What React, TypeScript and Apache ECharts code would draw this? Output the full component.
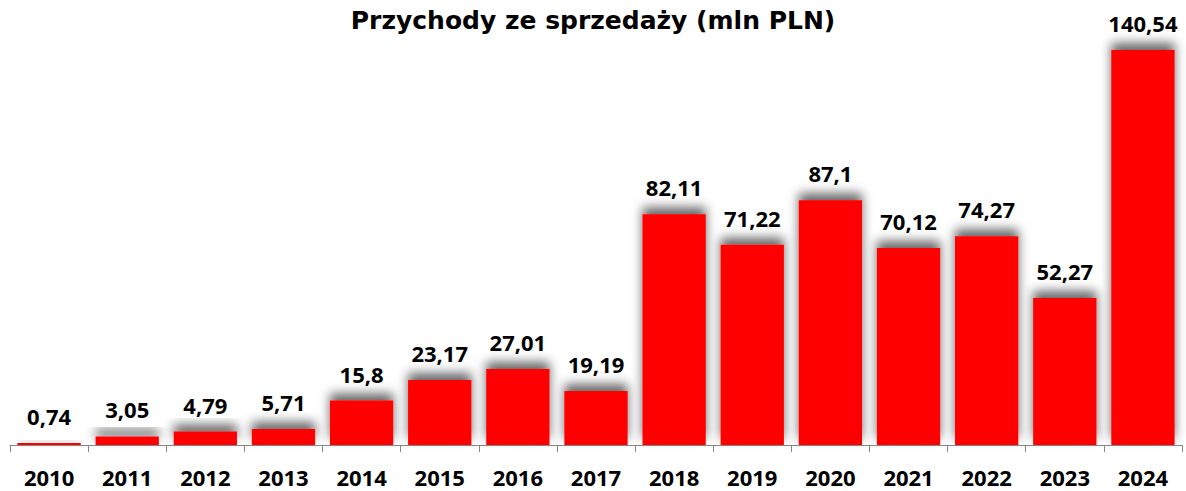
import React, { useEffect, useRef } from "react";
import * as echarts from "echarts";

const categories = ["2010","2011","2012","2013","2014","2015","2016","2017","2018","2019","2020","2021","2022","2023","2024"];
const values = [0.74,3.05,4.79,5.71,15.8,23.17,27.01,19.19,82.11,71.22,87.1,70.12,74.27,52.27,140.54];
const valueLabels = ["0,74","3,05","4,79","5,71","15,8","23,17","27,01","19,19","82,11","71,22","87,1","70,12","74,27","52,27","140,54"];

export default function App() {
  const ref = useRef<HTMLDivElement>(null);
  useEffect(() => {
    const chart = echarts.init(ref.current!, null, { renderer: "svg" });
    chart.setOption({
      animation: false,
      title: {
        text: "Przychody ze sprzedaży (mln PLN)",
        left: "center",
        top: 3,
        textStyle: { fontFamily: "DejaVu Sans", fontWeight: "bold", fontSize: 25, color: "#000" },
      },
      grid: { left: 10, right: 4, top: 23.5, bottom: 46, containLabel: false },
      xAxis: {
        type: "category",
        data: categories,
        axisLine: { lineStyle: { color: "#888", width: 1 } },
        axisTick: { show: true, length: 7, lineStyle: { color: "#888" } },
        axisLabel: { fontFamily: "Open Sans", fontWeight: "bold", fontSize: 22, color: "#000", margin: 21 },
      },
      yAxis: {
        type: "value",
        min: 0,
        max: 150,
        show: false,
        splitLine: { show: false },
      },
      series: [
        {
          type: "bar",
          data: values,
          barCategoryGap: "19%",
          itemStyle: {
            color: "#ff0000",
            shadowColor: "rgba(0,0,0,0.6)",
            shadowBlur: 11,
            shadowOffsetY: -7,
          },
          label: {
            show: true,
            position: "top",
            distance: 16,
            formatter: (p: any) => valueLabels[p.dataIndex],
            fontFamily: "Open Sans",
            fontWeight: "bold",
            fontSize: 22,
            color: "#000",
          },
        },
      ],
    });
    return () => chart.dispose();
  }, []);
  return <div ref={ref} style={{ width: 1186, height: 491, position: "absolute", left: 0, top: 0 }} />;
}
